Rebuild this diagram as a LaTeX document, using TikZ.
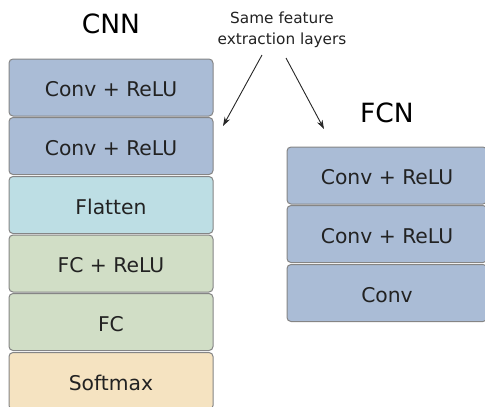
\documentclass[tikz,border=0pt]{standalone}
\usepackage{fontspec}
\setmainfont{DejaVu Sans}
\usetikzlibrary{arrows.meta}
\definecolor{convc}{HTML}{AABCD6}
\definecolor{flatc}{HTML}{BDDEE4}
\definecolor{fcc}{HTML}{D1DEC6}
\definecolor{softc}{HTML}{F5E3C1}
\definecolor{edgec}{HTML}{858585}
\definecolor{txtc}{HTML}{222222}
\begin{document}
\begin{tikzpicture}[x=1pt,y=-1pt,
  layer/.style={draw=edgec, line width=1pt, rounded corners=4pt, minimum width=204pt, minimum height=57pt,
    inner sep=0pt, text height=18pt, text depth=0pt, text=txtc, font=\fontsize{20.3}{22}\selectfont},
  rlayer/.style={layer, minimum width=200pt},
  title/.style={text=black, font=\fontsize{26.5}{30}\selectfont},
  note/.style={text=txtc, align=center, font=\fontsize{15.3}{21}\selectfont},
  pointer/.style={draw=black!85, line width=0.9pt, -{Stealth[length=9pt,width=6pt]}}]
\useasboundingbox (0,0) rectangle (485,407);
% CNN column
\node[layer, fill=convc] (c1) at (111,87.5) {Conv + ReLU};
\node[layer, fill=convc] (c2) at (111,146) {Conv + ReLU};
\node[layer, fill=flatc] (c3) at (111,205) {Flatten};
\node[layer, fill=fcc] (c4) at (111,263.5) {FC + ReLU};
\node[layer, fill=fcc] (c5) at (111,322) {FC};
\node[layer, fill=softc] (c6) at (111,381) {Softmax};
% FCN column
\node[rlayer, fill=convc] (f1) at (387,175.5) {Conv + ReLU};
\node[rlayer, fill=convc] (f2) at (387,234) {Conv + ReLU};
\node[rlayer, fill=convc] (f3) at (387,293) {Conv};
% titles
\node[title] (tcnn) at (111,24) {CNN};
\node[title] (tfcn) at (387,113) {FCN};
\node[note] (note) at (282,30) {Same feature\\extraction layers};
% arrows
\coordinate (a1s) at (262,55);
\coordinate (a1e) at (223,126);
\coordinate (a2s) at (286,58);
\coordinate (a2e) at (324,129);
\draw[pointer] (a1s) -- (a1e);
\draw[pointer] (a2s) -- (a2e);
\end{tikzpicture}
\end{document}
